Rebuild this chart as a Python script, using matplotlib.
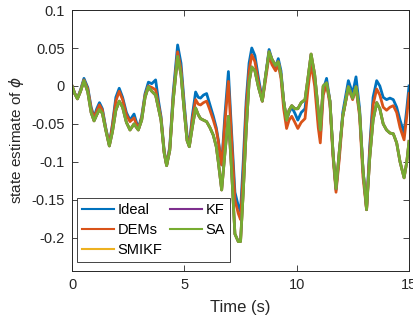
import matplotlib
matplotlib.use('Agg')
import matplotlib.pyplot as plt

plt.rcParams['font.family'] = ['Liberation Sans', 'DejaVu Sans']
plt.rcParams['mathtext.fontset'] = 'dejavusans'

# time (s) and state estimates
t = [0.0, 0.12, 0.24, 0.38, 0.53, 0.7, 0.85, 0.98, 1.1, 1.22, 1.35, 1.5, 1.66, 1.8, 1.95,
     2.1, 2.25, 2.42, 2.58, 2.76, 2.95, 3.1, 3.25, 3.4, 3.55, 3.72, 3.85, 3.96, 4.1, 4.21,
     4.35, 4.5, 4.7, 4.85, 5.0, 5.12, 5.22, 5.35, 5.5, 5.62, 5.72, 5.85, 5.99, 6.14, 6.29,
     6.42, 6.51, 6.66, 6.8, 6.96, 7.1, 7.25, 7.4, 7.5, 7.62, 7.75, 7.88, 8.0, 8.14, 8.3,
     8.47, 8.6, 8.77, 8.9, 9.06, 9.18, 9.3, 9.42, 9.55, 9.66, 9.78, 9.92, 10.05, 10.2, 10.37,
     10.5, 10.64, 10.8, 10.96, 11.05, 11.18, 11.33, 11.48, 11.62, 11.75, 11.9, 12.05, 12.3, 12.49, 12.64,
     12.8, 12.95, 13.11, 13.25, 13.4, 13.56, 13.7, 13.85, 14.0, 14.15, 14.3, 14.45, 14.6, 14.78, 14.9,
     15.0]

ideal = [0, -0.01, -0.016, -0.005, 0.010, -0.002, -0.028, -0.041, -0.030, -0.022, -0.030, -0.055, -0.077, -0.050, -0.015,
         -0.003, -0.015, -0.035, -0.045, -0.037, -0.056, -0.040, -0.010, 0.005, 0.003, 0.008, -0.020, -0.040, -0.085, -0.104,
         -0.080, -0.010, 0.054, 0.030, -0.025, -0.065, -0.078, -0.040, -0.008, -0.015, -0.016, -0.012, -0.010, -0.025, -0.040,
         -0.055, -0.071, -0.104, -0.040, 0.019, -0.060, -0.140, -0.158, -0.165, -0.100, -0.020, 0.030, 0.050, 0.040, 0.010,
         -0.018, 0.010, 0.048, 0.035, 0.025, 0.036, 0.020, -0.020, -0.045, -0.035, -0.028, -0.036, -0.045, -0.035, -0.030,
         0.005, 0.036, 0.010, -0.045, -0.068, -0.005, 0.010, -0.020, -0.090, -0.137, -0.090, -0.035, 0.007, -0.010, 0.012,
         -0.030, -0.110, -0.160, -0.080, -0.015, 0.007, 0.000, -0.015, -0.018, -0.016, -0.018, -0.028, -0.045, -0.062, -0.030,
         0.000]

dems = [0, -0.01, -0.016, -0.006, 0.008, -0.004, -0.030, -0.042, -0.033, -0.025, -0.032, -0.056, -0.077, -0.052, -0.020,
        -0.007, -0.018, -0.038, -0.047, -0.042, -0.057, -0.042, -0.012, 0.000, -0.002, -0.005, -0.025, -0.042, -0.086, -0.104,
        -0.082, -0.015, 0.045, 0.022, -0.030, -0.068, -0.079, -0.045, -0.018, -0.024, -0.025, -0.022, -0.020, -0.032, -0.045,
        -0.058, -0.073, -0.104, -0.050, 0.006, -0.070, -0.150, -0.168, -0.176, -0.115, -0.030, 0.020, 0.041, 0.032, 0.005,
        -0.020, 0.005, 0.040, 0.028, 0.020, 0.028, 0.010, -0.030, -0.056, -0.045, -0.040, -0.048, -0.056, -0.048, -0.043,
        -0.005, 0.030, 0.000, -0.055, -0.075, -0.012, 0.002, -0.025, -0.095, -0.140, -0.095, -0.040, -0.003, -0.018, -0.003,
        -0.040, -0.120, -0.163, -0.085, -0.025, -0.004, -0.012, -0.028, -0.032, -0.028, -0.026, -0.035, -0.055, -0.071, -0.040,
        -0.010]

sa = [0, -0.01, -0.017, -0.007, 0.007, -0.008, -0.035, -0.046, -0.038, -0.031, -0.036, -0.058, -0.079, -0.060, -0.032,
      -0.020, -0.028, -0.048, -0.058, -0.050, -0.058, -0.045, -0.015, -0.001, -0.007, -0.012, -0.030, -0.045, -0.088, -0.105,
      -0.085, -0.020, 0.039, 0.015, -0.035, -0.072, -0.080, -0.055, -0.029, -0.038, -0.043, -0.045, -0.047, -0.055, -0.065,
      -0.080, -0.100, -0.137, -0.090, -0.040, -0.110, -0.195, -0.205, -0.205, -0.140, -0.060, 0.005, 0.025, 0.020, -0.002,
      -0.020, 0.010, 0.045, 0.035, 0.027, 0.032, 0.015, -0.020, -0.045, -0.032, -0.026, -0.030, -0.030, -0.022, -0.018,
      0.010, 0.042, 0.015, -0.032, -0.058, 0.000, 0.004, -0.020, -0.090, -0.135, -0.085, -0.040, -0.001, -0.016, -0.001,
      -0.035, -0.110, -0.163, -0.095, -0.045, -0.022, -0.030, -0.050, -0.058, -0.062, -0.063, -0.075, -0.100, -0.121, -0.100,
      -0.073]

# SMIKF and KF lie under the SA curve
smikf = list(sa)
kf = list(sa)

series = [('Ideal', ideal, '#0072BD'), ('DEMs', dems, '#D95319'),
          ('SMIKF', smikf, '#EDB120'), ('KF', kf, '#7E2F8E'), ('SA', sa, '#77AC30')]

yticks = [-0.2, -0.15, -0.1, -0.05, 0, 0.05, 0.1]
ytick_labels = ['-0.2', '-0.15', '-0.1', '-0.05', '0', '0.05', '0.1']
xticks = [0, 5, 10, 15]

fig = plt.figure(figsize=(4.14, 3.24), dpi=100)
ax = fig.add_axes([0.174, 0.163, 0.814, 0.806])
for name, vals, col in series:
    ax.plot(t, vals, color=col, lw=2, label=name)

ax.set_xlim(0, 15)
ax.set_ylim(-0.244, 0.1)
ax.set_xticks(xticks)
ax.set_xticklabels([str(v) for v in xticks])
ax.set_yticks(yticks)
ax.set_yticklabels(ytick_labels)
ax.tick_params(direction='in', top=True, right=True, length=4, width=0.6,
               colors='#262626', labelsize=10.5, pad=5)
for sp in ax.spines.values():
    sp.set_color('#262626')
    sp.set_linewidth(0.7)

ax.set_xlabel('Time (s)', fontsize=12, color='#262626', labelpad=6)
ax.set_ylabel('state estimate of $\\it{\\phi}$', fontsize=11, color='#262626', labelpad=4)

leg = ax.legend(loc='lower left', ncol=2, fontsize=10.5, frameon=True, fancybox=False,
                framealpha=1, edgecolor='#262626', handlelength=2.2,
                handletextpad=0.25, columnspacing=0.5, labelspacing=0.4,
                borderpad=0.35, borderaxespad=0, bbox_to_anchor=(0.014, 0.036))
leg.get_frame().set_linewidth(0.6)
for h in leg.get_lines():
    h.set_linewidth(1.5)

fig.savefig('out.png', dpi=100)
